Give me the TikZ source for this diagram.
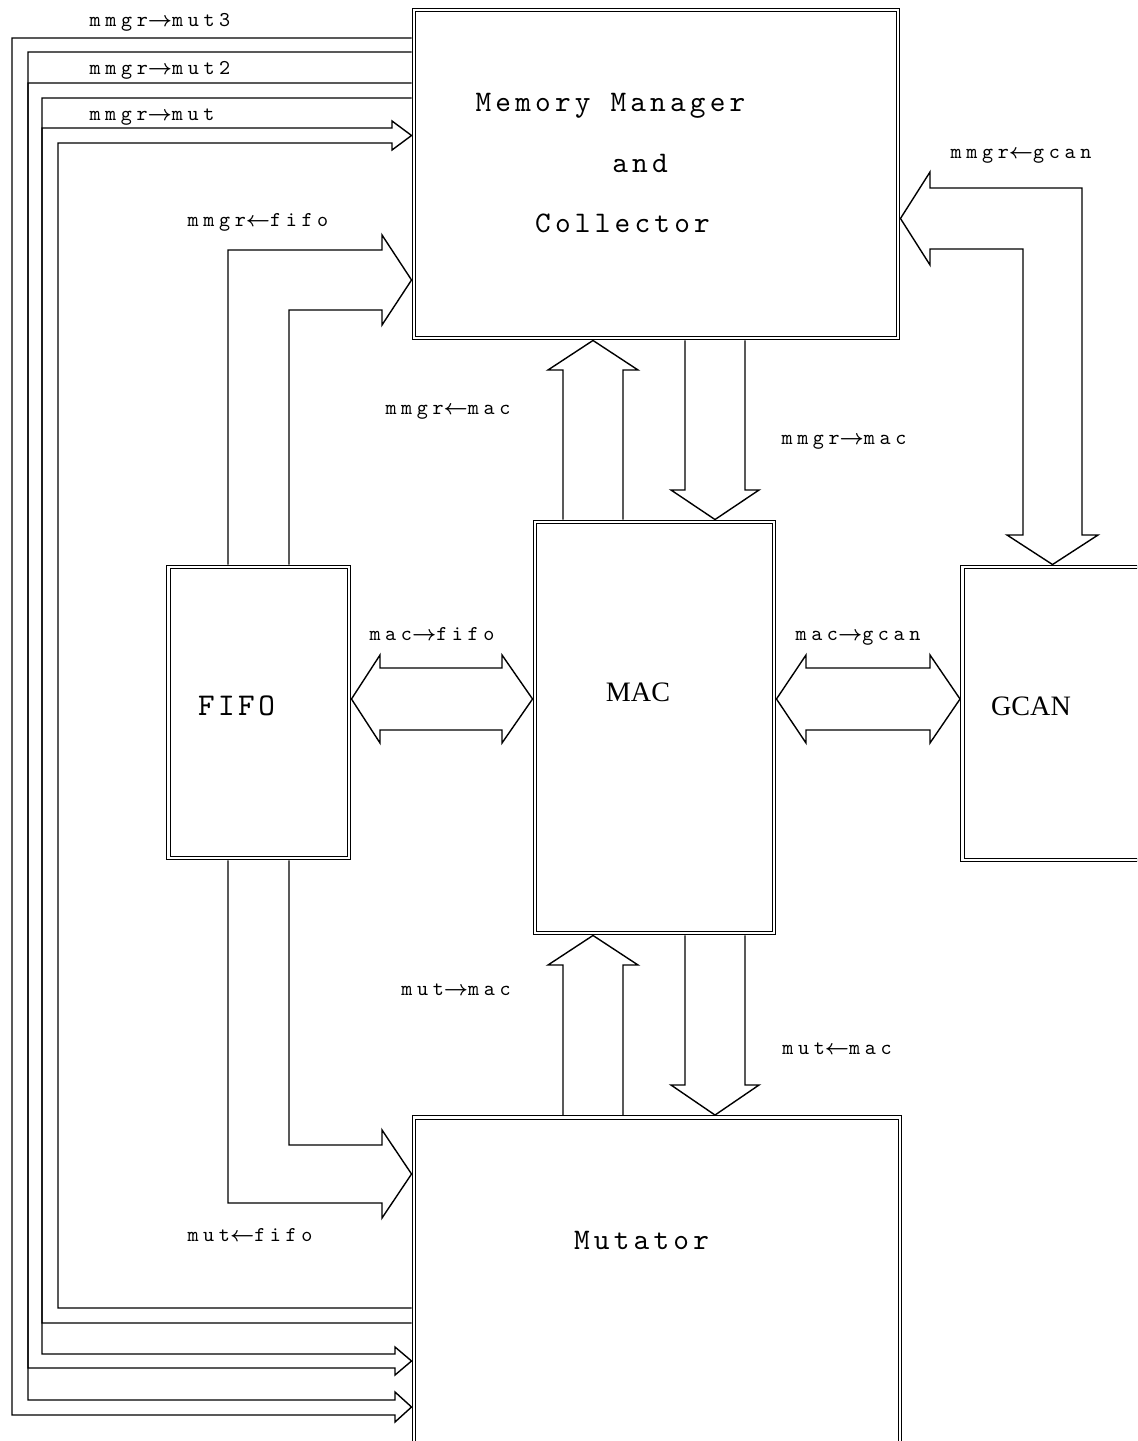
\documentclass[tikz,border=0pt]{standalone}
\usepackage{fontspec}
\usepackage{tikz}
\usetikzlibrary{calc}
\newfontfamily\unitserif{Liberation Serif}
\newfontfamily\sigfont[LetterSpace=22]{lmmono10-regular.otf}
\newfontfamily\unitmono[LetterSpace=14]{lmmono10-regular.otf}
\newfontfamily\fifomono[LetterSpace=11]{lmmono10-regular.otf}
\newcommand\sigto{{\boldmath$\rightarrow$}}
\newcommand\sigfrom{{\boldmath$\leftarrow$}}

\begin{document}
\begin{tikzpicture}[>=latex,
 unit/.style={draw,double,line width=0.6pt,double distance=1.6pt,inner sep=0pt,outer sep=1.4pt},
 bus/.style={draw,line width=0.8pt,line join=miter},
 sig/.style={font=\fontsize{12}{14}\selectfont\sigfont,inner sep=0pt,anchor=base},
 title/.style={font=\fontsize{17}{20}\selectfont\unitmono,inner sep=0pt,anchor=base}]
 \useasboundingbox (0,0) rectangle (22.74,-28.82);
 \clip (0,0) rectangle (22.74,-28.82);
 \node[unit,minimum width=9.68cm,minimum height=6.56cm] (mmgr) at (13.12,-3.48) {};
 \node[unit,minimum width=4.78cm,minimum height=8.22cm] (mac) at (13.09,-14.55) {};
 \node[unit,minimum width=3.61cm,minimum height=5.82cm] (fifo) at (5.175,-14.25) {};
 \node[unit,minimum width=4.75cm,minimum height=5.86cm] (gcan) at (21.625,-14.27) {};
 \node[unit,minimum width=9.72cm,minimum height=6.85cm] (mut) at (13.14,-25.775) {};
 \node[title] (mmgrA) at (12.21,-2.23) {Memory Manager};
 \node[title] (mmgrB) at (12.8,-3.45) {and};
 \node[title] (mmgrC) at (12.45,-4.65) {Collector};
 \node[title] (mutT) at (12.83,-24.98) {Mutator};
 \node[title,font=\fontsize{18}{21}\selectfont\fifomono] (fifoT) at (4.73,-14.31) {FIFO};
 \node[title,font=\fontsize{16}{19}\selectfont\unitserif] (macT) at (12.76,-14.02) {MAC};
 \node[title,font=\fontsize{16}{19}\selectfont\unitserif] (gcanT) at (20.62,-14.3) {GCAN};

 \draw[bus] (4.56,0 |- fifo.north) -- (4.56,-5.0) -- (7.64,-5.0) -- (7.64,-4.7) -- (mmgr.west |- 0,-5.6)
  -- (7.64,-6.5) -- (7.64,-6.2) -- (5.78,-6.2) -- (5.78,0 |- fifo.north);
 \draw[bus] (4.56,0 |- fifo.south) -- (4.56,-24.06) -- (7.64,-24.06) -- (7.64,-24.36) -- (mut.west |- 0,-23.48)
  -- (7.64,-22.6) -- (7.64,-22.9) -- (5.78,-22.9) -- (5.78,0 |- fifo.south);
 \draw[bus] (11.26,0 |- mac.north) -- (11.26,-7.4) -- (10.96,-7.4) -- (11.86,0 |- mmgr.south)
  -- (12.76,-7.4) -- (12.46,-7.4) -- (12.46,0 |- mac.north);
 \draw[bus] (13.7,0 |- mmgr.south) -- (13.7,-9.8) -- (13.42,-9.8) -- (14.3,0 |- mac.north)
  -- (15.18,-9.8) -- (14.9,-9.8) -- (14.9,0 |- mmgr.south);
 \draw[bus] (11.26,0 |- mut.north) -- (11.26,-19.3) -- (10.96,-19.3) -- (11.86,0 |- mac.south)
  -- (12.76,-19.3) -- (12.46,-19.3) -- (12.46,0 |- mut.north);
 \draw[bus] (13.7,0 |- mac.south) -- (13.7,-21.7) -- (13.42,-21.7) -- (14.3,0 |- mut.north)
  -- (15.18,-21.7) -- (14.9,-21.7) -- (14.9,0 |- mac.south);
 \draw[bus] (fifo.east |- 0,-13.98) -- (7.6,-13.1) -- (7.6,-13.36) -- (10.04,-13.36) -- (10.04,-13.1)
  -- (mac.west |- 0,-13.98) -- (10.04,-14.86) -- (10.04,-14.6) -- (7.6,-14.6) -- (7.6,-14.86) -- cycle;
 \draw[bus] (mac.east |- 0,-13.98) -- (16.12,-13.1) -- (16.12,-13.36) -- (18.6,-13.36) -- (18.6,-13.1)
  -- (gcan.west |- 0,-13.98) -- (18.6,-14.86) -- (18.6,-14.6) -- (16.12,-14.6) -- (16.12,-14.86) -- cycle;
 \draw[bus] (mmgr.east |- 0,-4.37) -- (18.6,-3.44) -- (18.6,-3.76) -- (21.64,-3.76) -- (21.64,-10.7)
  -- (21.96,-10.7) -- (21.05,0 |- gcan.north) -- (20.14,-10.7) -- (20.46,-10.7) -- (20.46,-4.98)
  -- (18.6,-4.98) -- (18.6,-5.3) -- cycle;
 \draw[bus] (mmgr.west |- 0,-0.76) -- (0.24,-0.76) -- (0.24,-28.3) -- (7.9,-28.3) -- (7.9,-28.44)
  -- (mut.west |- 0,-28.14) -- (7.9,-27.84) -- (7.9,-28.0) -- (0.56,-28.0) -- (0.56,-1.04) -- (mmgr.west |- 0,-1.04);
 \draw[bus] (mmgr.west |- 0,-1.66) -- (0.56,-1.66) -- (0.56,-27.36) -- (7.9,-27.36) -- (7.9,-27.5)
  -- (mut.west |- 0,-27.22) -- (7.9,-26.94) -- (7.9,-27.08) -- (0.84,-27.08) -- (0.84,-1.96) -- (mmgr.west |- 0,-1.96);
 \draw[bus] (mut.west |- 0,-26.46) -- (0.84,-26.46) -- (0.84,-2.56) -- (7.84,-2.56) -- (7.84,-2.42)
  -- (mmgr.west |- 0,-2.71) -- (7.84,-3.0) -- (7.84,-2.86) -- (1.16,-2.86) -- (1.16,-26.16) -- (mut.west |- 0,-26.16);

 \node[sig] (l3) at (3.2,-0.54) {mmgr\sigto mut3};
 \node[sig] (l2) at (3.2,-1.5) {mmgr\sigto mut2};
 \node[sig] (l1) at (3.04,-2.41) {mmgr\sigto mut};
 \node[sig] (lff) at (5.16,-4.53) {mmgr\sigfrom fifo};
 \node[sig] (lmm) at (8.96,-8.3) {mmgr\sigfrom mac};
 \node[sig] (lmd) at (16.88,-8.9) {mmgr\sigto mac};
 \node[sig] (lgc) at (20.42,-3.17) {mmgr\sigfrom gcan};
 \node[sig] (lmf) at (8.64,-12.8) {mac\sigto fifo};
 \node[sig] (lmg) at (17.16,-12.8) {mac\sigto gcan};
 \node[sig] (lum) at (9.12,-19.9) {mut\sigto mac};
 \node[sig] (ldm) at (16.74,-21.08) {mut\sigfrom mac};
 \node[sig] (luf) at (5.0,-24.83) {mut\sigfrom fifo};
\end{tikzpicture}
\end{document}
